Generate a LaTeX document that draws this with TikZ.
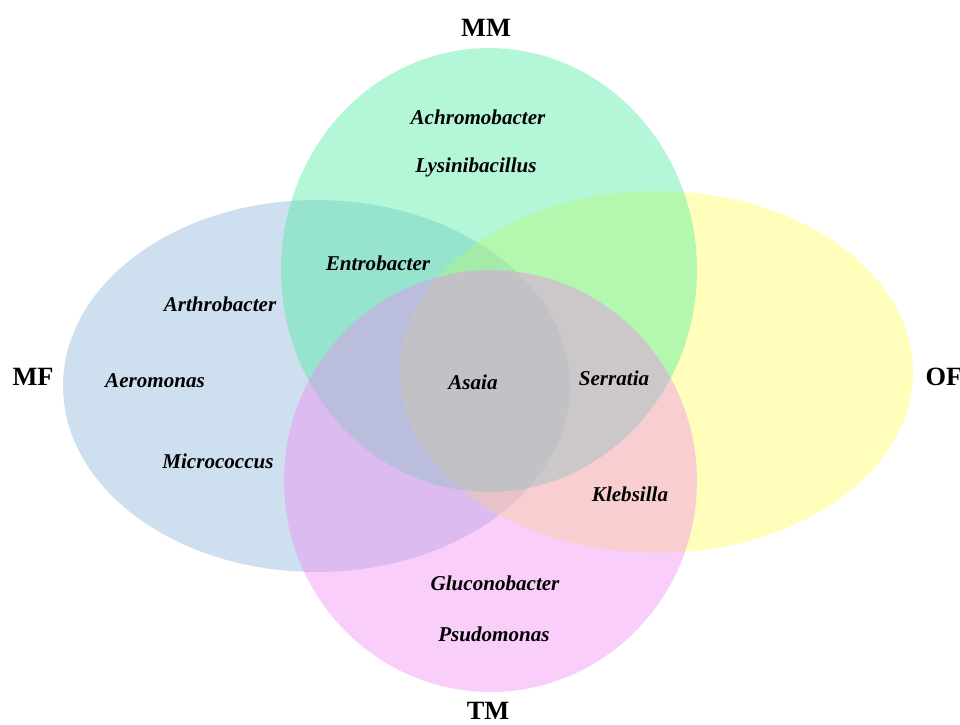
\documentclass[tikz,border=0pt]{standalone}
\usepackage{fontspec}
\setmainfont{Liberation Serif}
\usetikzlibrary{positioning, shapes.geometric}

\definecolor{mfblue}{RGB}{132,175,215}
\definecolor{mmgreen}{RGB}{68,235,158}
\definecolor{ofyellow}{RGB}{255,255,85}
\definecolor{tmpink}{RGB}{242,132,242}

\begin{document}
\begin{tikzpicture}[
  x=0.02cm, y=-0.02cm,
  set/.style={ellipse, draw=none, inner sep=0pt, fill opacity=0.4},
  genus/.style={font=\fontsize{12}{14}\selectfont\bfseries\itshape},
  group/.style={font=\fontsize{15}{18}\selectfont\bfseries},
]
\useasboundingbox (0,0) rectangle (960,724);

% the four sets
\node[set, fill=mfblue, minimum width=10.14cm, minimum height=7.44cm] (mf) at (316.5,386) {};
\node[set, fill=ofyellow, minimum width=10.26cm, minimum height=7.24cm] (of) at (656.5,372) {};
\node[set, fill=mmgreen, minimum width=8.32cm, minimum height=8.88cm] (mm) at (489,270) {};
\node[set, fill=tmpink, minimum width=8.26cm, minimum height=8.44cm] (tm) at (490.5,481) {};

% set names
\node[group] (mmname) at (486,28) {MM};
\node[group] (tmname) at (488,711) {TM};
\node[group] (mfname) at (33,377) {MF};
\node[group] (ofname) at (944,377) {OF};

% genera
\node[genus] (achro) at (478,117) {Achromobacter};
\node[genus] (lysin) at (476,167) {Lysinibacillus};
\node[genus] (entro) at (378,263) {Entrobacter};
\node[genus] (arthro) at (220,304) {Arthrobacter};
\node[genus] (aero) at (155,381) {Aeromonas};
\node[genus] (micro) at (218,461) {Micrococcus};
\node[genus] (asaia) at (473,382) {Asaia};
\node[genus] (serra) at (614,378) {Serratia};
\node[genus] (klebs) at (630,494) {Klebsilla};
\node[genus] (glucono) at (495,583) {Gluconobacter};
\node[genus] (psudo) at (494,634) {Psudomonas};

\end{tikzpicture}
\end{document}
